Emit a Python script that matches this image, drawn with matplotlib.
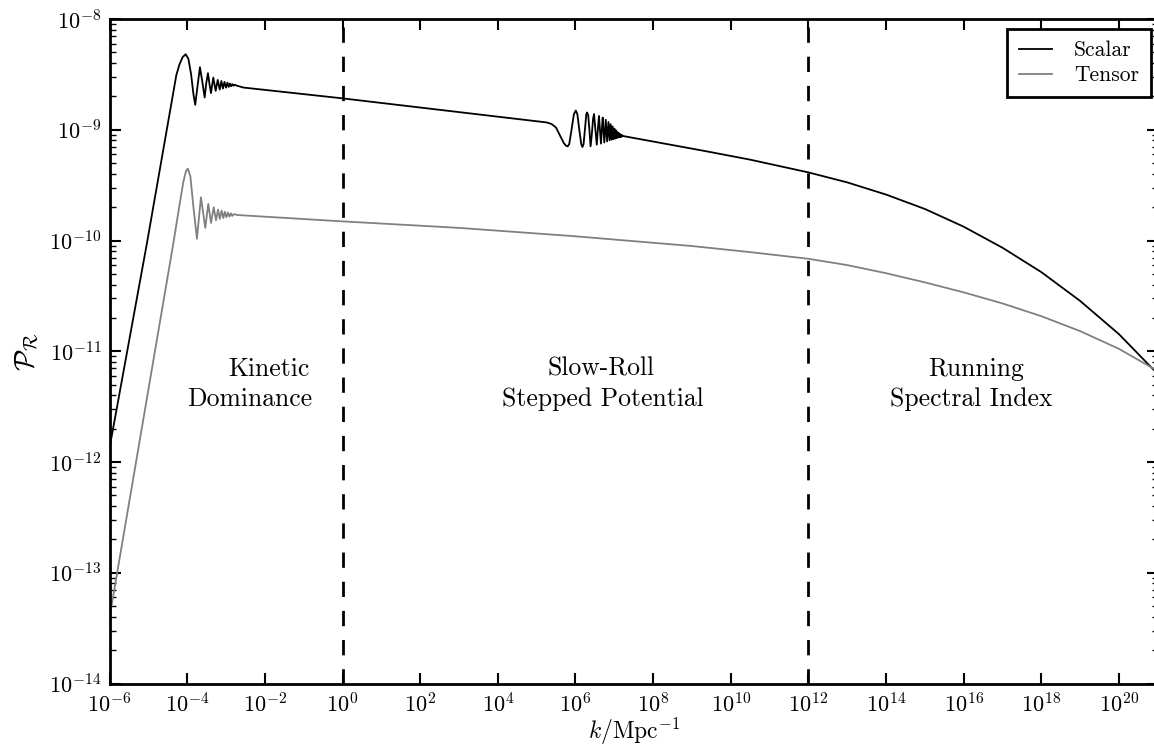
import numpy as np
import matplotlib
matplotlib.use("Agg")
import matplotlib.pyplot as plt
from matplotlib.ticker import FixedLocator, LogLocator, NullLocator, NullFormatter, LogFormatterMathtext

plt.rcParams['font.family'] = 'serif'
plt.rcParams['font.serif'] = ['cmr10', 'DejaVu Serif']
plt.rcParams['mathtext.fontset'] = 'cm'
plt.rcParams['axes.formatter.use_mathtext'] = True
plt.rcParams['axes.unicode_minus'] = False

# ---- data: log10 k  and log10 P ----
scalar_log_k = [-6.0, -5.044, -4.28, -4.20, -4.12, -4.04, -3.97, -3.90, -3.84, -3.794,
                -3.74, -3.673, -3.61, -3.551, -3.51, -3.466, -3.43, -3.388, -3.329,
                -3.267, -3.215, -3.163, -3.12, -3.08, -3.04, -3.00, -2.965, -2.93,
                -2.90, -2.87, -2.84, -2.81, -2.78, -2.74, -2.553, -0.065, 2.5, 5.26,
                5.39, 5.50, 5.60, 5.70, 5.76, 5.80, 5.84, 5.90, 5.96, 6.01, 6.05, 6.10,
                6.15, 6.18, 6.21, 6.25, 6.28, 6.30, 6.33, 6.36, 6.39, 6.42, 6.455, 6.48,
                6.515, 6.55, 6.58, 6.607, 6.632, 6.658, 6.68, 6.703, 6.744, 6.782,
                6.816, 6.851, 6.881, 6.908, 6.934, 6.959, 6.982, 7.004, 7.025, 7.045,
                7.064, 7.083, 7.10, 7.117, 7.133, 7.149, 7.164, 7.178, 7.192, 7.206,
                7.23, 7.28, 9.38, 10.5, 12.0, 13.0, 14.0, 15.0, 16.0, 17.0, 18.0,
                19.0, 20.0, 21.0]
scalar_log_P = [-11.87, -10.036, -8.505, -8.41, -8.345, -8.318, -8.36, -8.50, -8.68, -8.775,
                -8.62, -8.435, -8.57, -8.709, -8.58, -8.489, -8.58, -8.669, -8.529,
                -8.649, -8.550, -8.637, -8.560, -8.628, -8.568, -8.620, -8.575, -8.613,
                -8.582, -8.607, -8.588, -8.602, -8.593, -8.600, -8.619, -8.714, -8.82, -8.934,
                -8.949, -8.98, -9.05, -9.12, -9.145, -9.150, -9.13, -9.00, -8.86, -8.826, -8.86, -9.00,
                -9.13, -9.156, -9.13, -8.98, -8.86, -8.844, -8.87, -9.00, -9.150, -9.05, -8.90, -8.858,
                -9.00, -9.135, -8.99, -8.875, -9.00, -9.125, -9.00, -8.89, -9.115, -8.91,
                -9.105, -8.93, -9.095, -8.95, -9.09, -8.97, -9.085, -8.99, -9.08, -9.005,
                -9.075, -9.02, -9.07, -9.03, -9.068, -9.038, -9.065, -9.045, -9.062, -9.05,
                -9.057, -9.06, -9.195, -9.27, -9.385, -9.475, -9.585, -9.715, -9.875,
                -10.065, -10.285, -10.545, -10.845, -11.205]

tensor_log_k = [-6.0, -4.363, -4.19, -4.10, -4.03, -3.983, -3.92, -3.84, -3.75, -3.70,
                -3.647, -3.59, -3.535, -3.458, -3.388, -3.318, -3.259, -3.207, -3.16,
                -3.115, -3.07, -3.03, -2.99, -2.95, -2.91, -2.875, -2.84, -2.80, -2.70,
                -0.065, 3.0, 6.0, 9.0, 10.5, 12.0, 13.0, 14.0, 15.0, 16.0, 17.0, 18.0,
                19.0, 20.0, 21.0]
tensor_log_P = [-13.40, -10.036, -9.66, -9.47, -9.37, -9.351, -9.42, -9.70, -9.985, -9.80,
                -9.610, -9.75, -9.886, -9.669, -9.841, -9.700, -9.817, -9.721, -9.805,
                -9.730, -9.797, -9.740, -9.790, -9.748, -9.784, -9.755, -9.778, -9.762, -9.770,
                -9.826, -9.886, -9.962, -10.05, -10.105, -10.165, -10.222, -10.295, -10.378,
                -10.468, -10.568, -10.683, -10.818, -10.978, -11.178]

boundaries = [1e0, 1e12]
region_labels = [("Kinetic", "Dominance"), ("Slow-Roll", "Stepped Potential"),
                 ("Running", "Spectral Index")]
region_x = [(1.3e-2, 4e-3), (4.6e6, 5.1e6), (2.1e16, 1.55e16)]
region_y = (10**-11.16, 10**-11.43)

x_ticks = [10.0**e for e in range(-6, 21, 2)]

# ---- figure ----
fig = plt.figure(figsize=(11.54, 7.45), dpi=100)
ax = fig.add_axes([109.6/1154, 1-683.5/745, (1157.7-109.6)/1154, (683.5-19)/745])

sk = 10.0**np.array(scalar_log_k)
sp = 10.0**np.array(scalar_log_P)
tk = 10.0**np.array(tensor_log_k)
tp = 10.0**np.array(tensor_log_P)

ax.plot(sk, sp, color='black', lw=1.3, label='Scalar')
ax.plot(tk, tp, color='#808080', lw=1.3, label='Tensor')

for b in boundaries:
    ax.axvline(b, color='black', lw=2, dashes=(5.5, 5.0))

ax.set_xscale('log')
ax.set_yscale('log')
ax.set_xlim(1e-6, 1e21)
ax.set_ylim(1e-14, 1e-8)

ax.xaxis.set_major_locator(FixedLocator(x_ticks))
ax.xaxis.set_minor_locator(NullLocator())
ax.xaxis.set_major_formatter(LogFormatterMathtext())
ax.yaxis.set_major_locator(LogLocator(base=10, numticks=20))
ax.yaxis.set_minor_locator(LogLocator(base=10, subs=np.arange(2, 10), numticks=20))
ax.yaxis.set_minor_formatter(NullFormatter())

ax.tick_params(which='both', direction='in', top=True, right=True, labelsize=16)
ax.tick_params(which='major', length=8, width=1.5, pad=6)
ax.tick_params(which='minor', length=4.5, width=1)
for s in ax.spines.values():
    s.set_linewidth(2)

ax.set_xlabel(r'$k/\mathrm{Mpc}^{-1}$', fontsize=17, labelpad=0)
ax.set_ylabel(r'$\mathcal{P}_\mathcal{R}$', fontsize=20, labelpad=6)

for (l1, l2), (x1, x2) in zip(region_labels, region_x):
    ax.text(x1, region_y[0], l1, ha='center', va='center', fontsize=18.5)
    ax.text(x2, region_y[1], l2, ha='center', va='center', fontsize=18.5)

leg = ax.legend(loc='upper right', bbox_to_anchor=(1151/1154, 1-29/745),
                bbox_transform=fig.transFigure, fontsize=15.5, fancybox=False,
                framealpha=1, edgecolor='black', handlelength=1.5, handletextpad=1.05,
                borderpad=0.55, labelspacing=0.25, borderaxespad=0)
leg.get_frame().set_linewidth(2)

fig.savefig('out.png', dpi=100)
